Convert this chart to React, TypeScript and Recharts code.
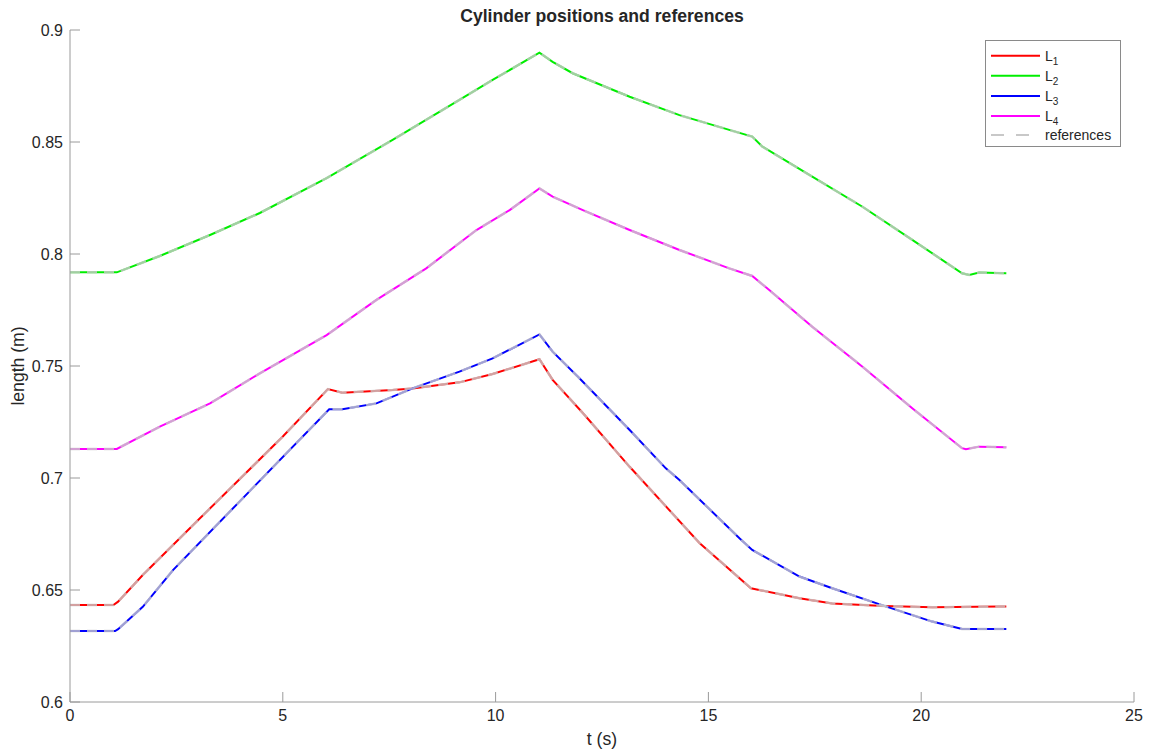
import React from "react";
import { LineChart, Line, XAxis, YAxis } from "recharts";

// time stamps (s) and cylinder lengths (m)
const l1Time = [0, 1.02, 1.13, 1.71, 3.0, 5.0, 6.06, 6.4, 7.58, 8.05, 9.15, 9.93, 11.03, 11.34, 12.05, 13.15, 14.79, 16.0, 17.14, 17.91, 19.13, 20.26, 21.83, 22];
const l1Len = [0.6433, 0.6433, 0.6448, 0.6567, 0.681, 0.7185, 0.7397, 0.7381, 0.7393, 0.74, 0.7427, 0.7464, 0.753, 0.7438, 0.729, 0.705, 0.671, 0.6508, 0.6463, 0.644, 0.6429, 0.6423, 0.6426, 0.6426];

const l2Time = [0, 1.1, 2.11, 3.29, 4.46, 6.03, 7.58, 9.15, 9.93, 11.03, 11.34, 11.81, 13.15, 14.32, 15.49, 16.03, 16.27, 17.44, 18.62, 19.79, 20.96, 21.13, 21.36, 22];
const l2Len = [0.7918, 0.7918, 0.7991, 0.8085, 0.8183, 0.8339, 0.8509, 0.8688, 0.8777, 0.8899, 0.8858, 0.8807, 0.8702, 0.862, 0.8554, 0.8524, 0.8479, 0.8345, 0.8211, 0.8063, 0.7914, 0.7906, 0.7917, 0.7914];

const l3Time = [0, 1.06, 1.13, 1.71, 2.42, 4.0, 6.09, 6.4, 7.2, 8.05, 9.15, 9.93, 11.03, 11.34, 11.97, 13.15, 14.0, 14.32, 15.73, 16.03, 17.14, 17.91, 19.13, 20.26, 20.96, 22];
const l3Len = [0.6317, 0.6317, 0.6325, 0.6425, 0.6589, 0.6898, 0.7307, 0.7307, 0.7333, 0.74, 0.7475, 0.7534, 0.7641, 0.7564, 0.7445, 0.7214, 0.7043, 0.6991, 0.6731, 0.6679, 0.656, 0.6508, 0.6429, 0.6359, 0.6326, 0.6326];

const l4Time = [0, 1.1, 2.11, 3.29, 4.46, 6.03, 7.2, 8.37, 9.55, 10.33, 11.03, 11.34, 12.05, 13.15, 14.32, 15.49, 16.03, 16.43, 17.44, 18.62, 19.79, 20.96, 21.05, 21.36, 22];
const l4Len = [0.713, 0.713, 0.7229, 0.7333, 0.7467, 0.7638, 0.7795, 0.7936, 0.8107, 0.8196, 0.8293, 0.8256, 0.8196, 0.8107, 0.8018, 0.7936, 0.7902, 0.7839, 0.7675, 0.7497, 0.7311, 0.7133, 0.7128, 0.714, 0.7137];

const xTicks = [0, 5, 10, 15, 20, 25];
const yTicks = [0.6, 0.65, 0.7, 0.75, 0.8, 0.85, 0.9];

const seriesNames = ["L1", "L2", "L3", "L4"];
const seriesColors = ["#ff0000", "#00ee00", "#0000ff", "#ff00ff"];

const toRows = (ts: number[], vs: number[]) => ts.map((t, i) => ({ t, v: vs[i] }));
const series = [
  toRows(l1Time, l1Len),
  toRows(l2Time, l2Len),
  toRows(l3Time, l3Len),
  toRows(l4Time, l4Len),
];

const FONT = '"Liberation Sans", Arial, Helvetica, sans-serif';
const AXIS = "#9a9a9a";
const TEXT = "#262626";
const REF = "#c8c8c8";

function XTick({ x, y, payload }: any) {
  return (
    <g>
      <line x1={x} x2={x} y1={y} y2={y - 10} stroke={AXIS} />
      <text x={x} y={y + 19} textAnchor="middle" fontSize={16} fill={TEXT} fontFamily={FONT}>
        {payload.value}
      </text>
    </g>
  );
}

function YTick({ x, y, payload }: any) {
  return (
    <g>
      <line x1={x} x2={x + 10} y1={y} y2={y} stroke={AXIS} />
      <text x={x - 7} y={y + 6} textAnchor="end" fontSize={16} fill={TEXT} fontFamily={FONT}>
        {payload.value}
      </text>
    </g>
  );
}

function LegendBox() {
  const rowY = [15.7, 35.7, 56, 76, 95];
  return (
    <svg
      width={136}
      height={107}
      style={{ position: "absolute", left: 985, top: 40, overflow: "visible" }}
    >
      <rect x={0.5} y={0.5} width={135} height={106} fill="#fff" stroke="#8a8a8a" />
      {seriesNames.map((name, i) => (
        <g key={name}>
          <line x1={6} x2={55} y1={rowY[i]} y2={rowY[i]} stroke={seriesColors[i]} strokeWidth={2} />
          <text x={60} y={rowY[i] + 5} fontSize={14} fill={TEXT} fontFamily={FONT}>
            L<tspan fontSize={10} dy={4}>{name.slice(1)}</tspan>
          </text>
        </g>
      ))}
      <line x1={6} x2={55} y1={rowY[4]} y2={rowY[4]} stroke={REF} strokeWidth={2} strokeDasharray="13 12" />
      <text x={60} y={rowY[4] + 5} fontSize={14} fill={TEXT} fontFamily={FONT}>
        references
      </text>
    </svg>
  );
}

export default function App() {
  return (
    <div style={{ position: "absolute", left: 0, top: 0, width: 1151, height: 755, background: "#fff" }}>
      <div
        style={{
          position: "absolute",
          left: 70,
          width: 1064,
          top: 6,
          textAlign: "center",
          fontFamily: FONT,
          fontWeight: "bold",
          fontSize: 17.6,
          color: TEXT,
        }}
      >
        Cylinder positions and references
      </div>
      <LineChart
        width={1151}
        height={755}
        margin={{ top: 30, right: 17, bottom: 0, left: 0 }}
      >
        <XAxis
          type="number"
          dataKey="t"
          domain={[0, 25]}
          ticks={xTicks}
          allowDataOverflow
          height={53}
          tickSize={0}
          tickMargin={0}
          tickLine={false}
          axisLine={{ stroke: AXIS }}
          tick={<XTick />}
        />
        <YAxis
          type="number"
          dataKey="v"
          domain={[0.6, 0.9]}
          ticks={yTicks}
          allowDataOverflow
          width={70}
          tickSize={0}
          tickMargin={0}
          tickLine={false}
          axisLine={{ stroke: AXIS }}
          tick={<YTick />}
        />
        {series.map((rows, i) => (
          <Line
            key={seriesNames[i]}
            data={rows}
            dataKey="v"
            type="linear"
            stroke={seriesColors[i]}
            strokeWidth={2}
            dot={false}
            activeDot={false}
            isAnimationActive={false}
          />
        ))}
        {series.map((rows, i) => (
          <Line
            key={"ref" + i}
            data={rows}
            dataKey="v"
            type="linear"
            stroke={REF}
            strokeOpacity={0.8}
            strokeWidth={2.5}
            strokeDasharray="10 7"
            dot={false}
            activeDot={false}
            isAnimationActive={false}
          />
        ))}
      </LineChart>
      <div
        style={{
          position: "absolute",
          left: 70,
          width: 1064,
          top: 729,
          textAlign: "center",
          fontFamily: FONT,
          fontSize: 17.6,
          color: TEXT,
        }}
      >
        t (s)
      </div>
      <div
        style={{
          position: "absolute",
          left: 18,
          top: 366,
          transform: "translate(-50%, -50%) rotate(-90deg)",
          whiteSpace: "nowrap",
          fontFamily: FONT,
          fontSize: 17.6,
          color: TEXT,
        }}
      >
        length (m)
      </div>
      <LegendBox />
    </div>
  );
}
